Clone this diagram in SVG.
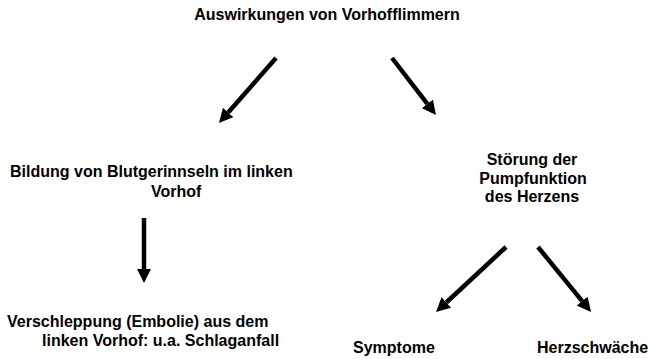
<svg xmlns="http://www.w3.org/2000/svg" width="648" height="359" viewBox="0 0 648 359">
<style>
text { font-family: "Liberation Sans", Arial, sans-serif; font-weight: bold; font-size: 16px; fill: #000; }
.c { stroke: #000; stroke-width: 4.5; fill: none; marker-end: url(#ah); }
</style>
<defs>
<marker id="ah" markerUnits="userSpaceOnUse" markerWidth="14" markerHeight="14" viewBox="0 -7 14 14" refX="0" refY="0" orient="auto">
<path d="M0,-7 L14,0 L0,7 z" fill="#000"/>
</marker>
</defs>
<rect width="648" height="359" fill="#fff"/>
<g id="n-title"><text x="327" y="20" text-anchor="middle">Auswirkungen von Vorhofflimmern</text></g>
<g id="n-blut">
<text x="10" y="177">Bildung von Blutgerinnseln im linken</text>
<text x="151" y="197">Vorhof</text>
</g>
<g id="n-pump">
<text x="532" y="165" text-anchor="middle">Störung der</text>
<text x="533" y="184" text-anchor="middle">Pumpfunktion</text>
<text x="532" y="202" text-anchor="middle">des Herzens</text>
</g>
<g id="n-embolie">
<text x="7" y="327">Verschleppung (Embolie) aus dem</text>
<text x="42" y="346">linken Vorhof: u.a. Schlaganfall</text>
</g>
<g id="n-symptome"><text x="353" y="353">Symptome</text></g>
<g id="n-herz"><text x="537" y="353">Herzschwäche</text></g>
<g id="connectors">
<line class="c" x1="276" y1="58" x2="228.2" y2="112.5"/>
<line class="c" x1="392" y1="58" x2="427.4" y2="103.9"/>
<line class="c" x1="144" y1="218" x2="144" y2="269"/>
<line class="c" x1="506" y1="247" x2="446.3" y2="302.5"/>
<line class="c" x1="538" y1="247" x2="582.2" y2="301.1"/>
</g>
</svg>
